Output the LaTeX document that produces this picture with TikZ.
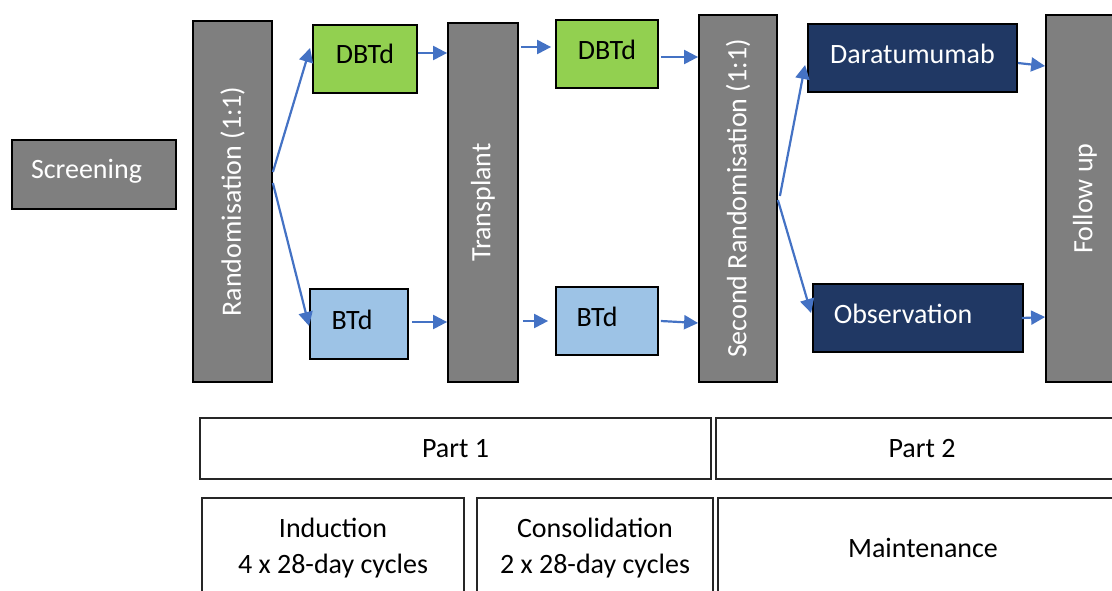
\documentclass[tikz,border=0pt]{standalone}
\usepackage{fontspec}
\setmainfont{Carlito}
\usetikzlibrary{arrows.meta,calc}
\definecolor{bargray}{HTML}{7F7F7F}
\definecolor{dgreen}{HTML}{92D050}
\definecolor{lblue}{HTML}{9DC3E6}
\definecolor{navy}{HTML}{203864}
\definecolor{arrowblue}{HTML}{4472C4}
\tikzset{
  box/.style={draw=black, line width=0.9pt, inner sep=0pt, font=\fontsize{14pt}{18pt}\selectfont},
  graybox/.style={box, fill=bargray, text=white},
  greenbox/.style={box, fill=dgreen, text=black},
  bluebox/.style={box, fill=lblue, text=black},
  navybox/.style={box, fill=navy, text=white},
  phasebox/.style={draw=black!85, line width=0.75pt, fill=white, inner sep=0pt, align=center,
     font=\fontsize{14pt}{18pt}\selectfont},
  flow/.style={draw=arrowblue, line width=1.1pt, -{Triangle[length=7pt,width=7pt]}}
}
\begin{document}
\begin{tikzpicture}[x=0.5pt,y=-0.5pt]
\useasboundingbox (0,0) rectangle (1112,590);
\clip (0,0) rectangle (1112,590);
% main nodes
\node[graybox, minimum width=82pt, minimum height=34.5pt] (screen) at (94,174.5) {\raisebox{5.5pt}{Screening}\hspace*{7.5pt}};
\node[graybox, minimum width=39.5pt, minimum height=180.5pt] (rand) at (232.5,201.5) {\rotatebox{90}{Randomisation (1:1)}};
\node[greenbox, minimum width=52pt, minimum height=34pt] (dbtd1) at (365,59) {\raisebox{5pt}{DBTd}};
\node[bluebox, minimum width=49pt, minimum height=35pt] (btd1) at (359,324) {\raisebox{4.5pt}{BTd}\hspace*{7pt}};
\node[graybox, minimum width=35pt, minimum height=179.5pt] (transplant) at (483,202.5) {\rotatebox{90}{Transplant}};
\node[greenbox, minimum width=51pt, minimum height=34pt] (dbtd2) at (607,54) {\raisebox{4.5pt}{DBTd}};
\node[bluebox, minimum width=51pt, minimum height=34pt] (btd2) at (607,321) {\raisebox{4.5pt}{BTd}\hspace*{10pt}};
\node[graybox, minimum width=39pt, minimum height=183.5pt] (secrand) at (738,198.5) {\rotatebox{90}{Second Randomisation (1:1)}};
\node[navybox, minimum width=104.5pt, minimum height=34pt] (dara) at (912.5,58) {\raisebox{4pt}{Daratumumab}};
\node[navybox, minimum width=105pt, minimum height=34pt] (obs) at (918,318) {\raisebox{4.5pt}{Observation}\hspace*{15pt}};
\node[graybox, minimum width=39pt, minimum height=183.5pt] (follow) at (1085,198.5) {\rotatebox{90}{Follow up}};
% phase boxes
\node[phasebox, minimum width=255.5pt, minimum height=30.5pt] (part1) at (455.5,448.5) {Part 1};
\node[phasebox, minimum width=206pt, minimum height=30.5pt] (part2) at (922,448.5) {Part 2};
\node[phasebox, minimum width=131pt, minimum height=50pt] (induction) at (333,548) {Induction\\4 x 28-day cycles};
\node[phasebox, minimum width=118pt, minimum height=50pt] (consol) at (595,548) {Consolidation\\2 x 28-day cycles};
\node[phasebox, minimum width=205pt, minimum height=50pt] (maint) at (923,548) {Maintenance};
% connectors
\draw[flow] ($(rand.east)+(0,-29.5)$) -- ($(dbtd1.west)+(-2,-11)$);
\draw[flow] ($(rand.east)+(0,-18.5)$) -- ($(btd1.west)+(0,2)$);
\coordinate (a1) at ($(dbtd1.east)+(0,-6)$);
\draw[flow] (a1) -- (a1 -| transplant.west);
\coordinate (a2) at ($(btd1.east)+(3,-2)$);
\draw[flow] (a2) -- (a2 -| transplant.west);
\coordinate (a3) at ($(dbtd2.west)+(-4,-7)$);
\draw[flow] ($(a3 -| transplant.east)+(2,0)$) -- (a3);
\coordinate (a4) at ($(btd2.west)+(-7,0)$);
\draw[flow] ($(a4 -| transplant.east)+(4,0)$) -- (a4);
\coordinate (a5) at ($(dbtd2.east)+(2,3)$);
\draw[flow] (a5) -- (a5 -| secrand.west);
\draw[flow] ($(btd2.east)+(2,0)$) -- ($(secrand.west)+(0,124.5)$);
\draw[flow] ($(secrand.east)+(2,-2.5)$) -- ($(dara.west)+(-2,7)$);
\draw[flow] ($(secrand.east)+(0,1.5)$) -- ($(obs.west)+(-1,-5)$);
\draw[flow] ($(dara.east)+(0,5)$) -- ($(follow.west)+(0,-132.5)$);
\draw[flow] ($(obs.east)+(-2,0)$) -- ($(follow.west)+(0,118.5)$);
\end{tikzpicture}
\end{document}
